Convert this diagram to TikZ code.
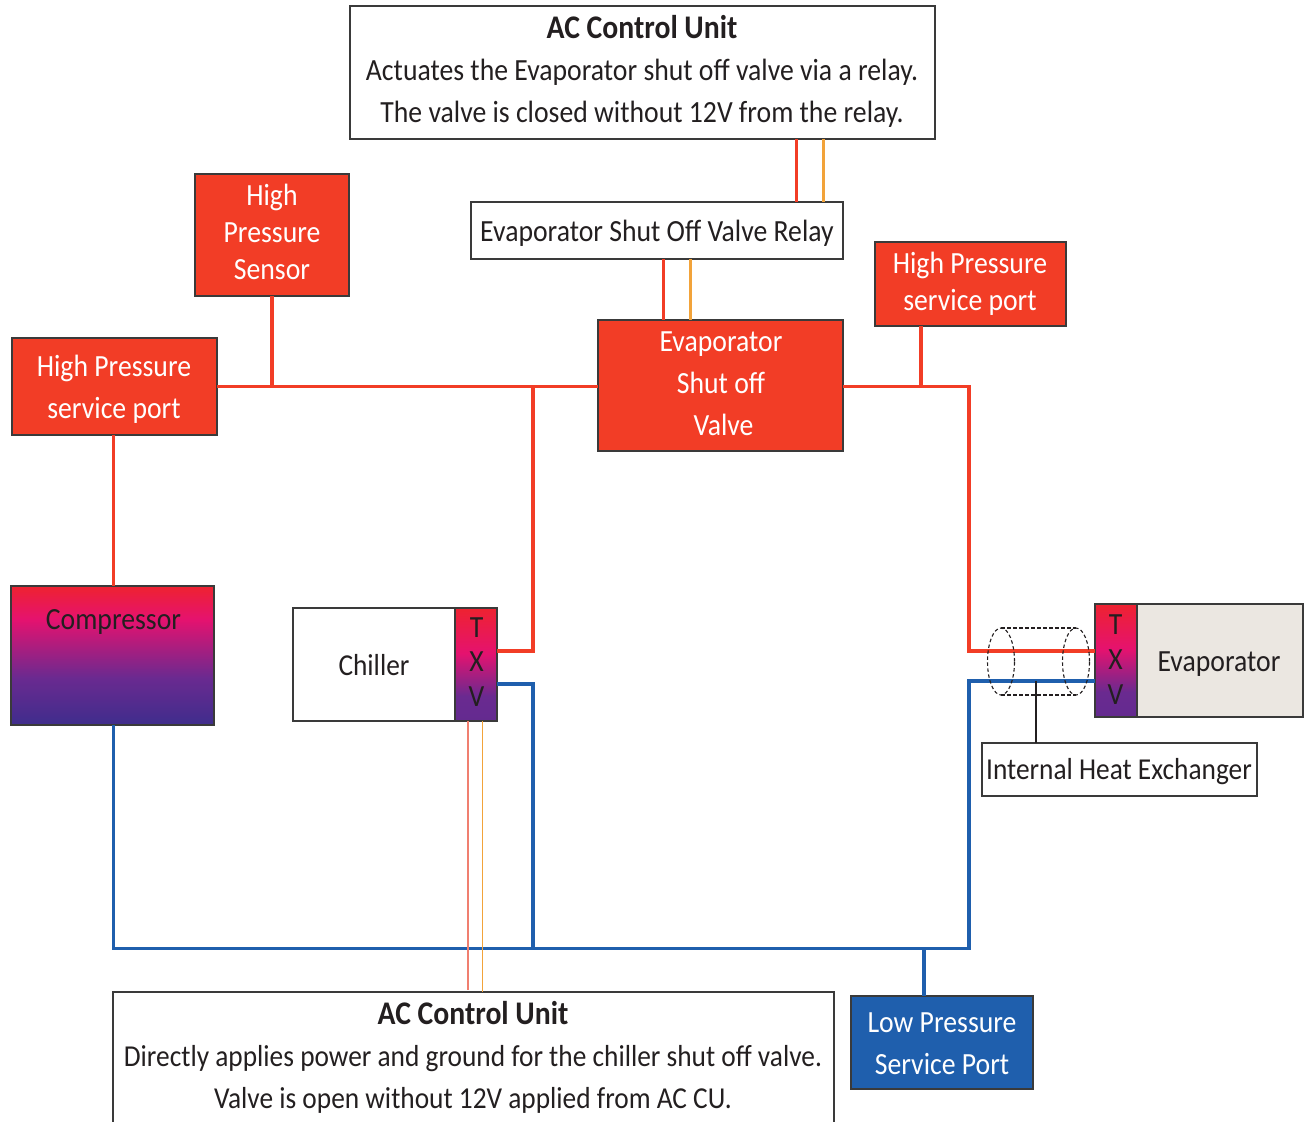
\documentclass[tikz,border=0pt]{standalone}
\usepackage{fontspec}
\setmainfont{Carlito}[FakeStretch=0.9]
\usetikzlibrary{calc}
\definecolor{wred}{HTML}{F23D26}
\definecolor{wblue}{HTML}{1F5FAD}
\definecolor{worange}{HTML}{F2A33A}
\definecolor{wsalmon}{HTML}{F07F70}
\definecolor{edgeg}{HTML}{3A3A3A}
\definecolor{evap}{HTML}{EBE7E1}
\definecolor{inkc}{HTML}{231F20}
\definecolor{rb1}{HTML}{3F2D8C}
\definecolor{rb2}{HTML}{6A2A90}
\definecolor{rb3}{HTML}{E5126F}
\definecolor{rb4}{HTML}{EE2230}
\pgfdeclareverticalshading{refr}{100bp}{
  color(0bp)=(rb1);
  color(25bp)=(rb1);
  color(42bp)=(rb2);
  color(63bp)=(rb3);
  color(75bp)=(rb4);
  color(100bp)=(rb4)}
\pgfdeclareverticalshading{txvshade}{100bp}{
  color(0bp)=(rb2);
  color(25bp)=(rb2!85!rb1);
  color(36bp)=(rb2);
  color(55bp)=(rb3);
  color(75bp)=(rb4);
  color(100bp)=(rb4)}
\newcommand{\headtxt}[1]{{\fontsize{33}{42}\selectfont\bfseries #1}}
\tikzset{
  box/.style={draw=edgeg,line width=1.3pt,inner sep=0pt,outer sep=0pt,anchor=north west},
  redbox/.style={box,fill=wred},
  bluebox/.style={box,fill=wblue},
  gradbox/.style={box,shading=refr,shading angle=0},
  txvbox/.style={box,shading=txvshade,shading angle=0},
  lab/.style={inner sep=0pt,text=inkc,align=center,font=\fontsize{30.8}{42}\selectfont},
  labsm/.style={lab,font=\fontsize{30.4}{42}\selectfont},
  wlab/.style={lab,text=white},
  wlabs/.style={wlab,font=\fontsize{30.8}{37}\selectfont},
  redw/.style={draw=wred,line width=3.2pt},
  bluew/.style={draw=wblue,line width=3.2pt},
  redt/.style={draw=wred,line width=3pt},
  orw/.style={draw=worange,line width=3pt},
  thinred/.style={draw=wsalmon,line width=1.6pt},
  thinor/.style={draw=worange,line width=1.6pt},
  hx/.style={draw=inkc,line width=1.1pt,dash pattern=on 3.5pt off 2.5pt}
}
\begin{document}
\begin{tikzpicture}[x=1pt,y=-1pt]
\useasboundingbox (0,0) rectangle (1307,1122);
\clip (0,0) rectangle (1307,1122);
\coordinate (redbus) at (0,386.5);
\coordinate (bluebus) at (0,948.5);
\coordinate (chillred) at (533,651);
\coordinate (chillblue) at (533,684);
\coordinate (evred) at (969,651);
\coordinate (evblue) at (969,681);
\coordinate (tapA) at (1036,681);
\coordinate (compx) at (113.5,0);

\node[box,minimum width=585pt,minimum height=133pt] (acone) at (350,6) {};
\node[lab] (aconetext) at (642,71) {\headtxt{AC Control Unit}\\Actuates the Evaporator shut off valve via a relay.\\The valve is closed without 12V from the relay.};
\node[box,minimum width=372pt,minimum height=57pt] (relay) at (471,202) {};
\node[lab] (relaytext) at (657,233) {Evaporator Shut Off Valve Relay};
\node[redbox,minimum width=245pt,minimum height=131pt] (valve) at (598,320) {};
\node[wlab] (valvetext) at (721,384) {Evaporator\\Shut off\\\hspace*{5pt}Valve};
\node[redbox,minimum width=154pt,minimum height=122pt] (hps) at (195,174) {};
\node[wlabs] (hpstext) at (272,232) {High\\Pressure\\Sensor};
\node[redbox,minimum width=205pt,minimum height=97pt] (hpl) at (12,338) {};
\node[wlab] (hpltext) at (114,389) {High Pressure\\service port};
\node[redbox,minimum width=191pt,minimum height=84pt] (hpr) at (875,242) {};
\node[wlabs] (hprtext) at (970,284) {High Pressure\\service port};
\node[gradbox,minimum width=203pt,minimum height=139pt] (comp) at (11,586) {};
\node[lab] (complab) at (113.5,622) {Compressor};
\node[box,minimum width=162pt,minimum height=113pt] (chiller) at (293,608) {};
\node[labsm] (chillertext) at (374,665.5) {Chiller};
\node[txvbox,minimum width=42pt,minimum height=113pt] (txvc) at (455,608) {};
\node[lab] (txvct) at (476.5,628) {T};
\node[lab] (txvcx) at (476.5,662) {X};
\node[lab] (txvcv) at (476.5,697) {V};
\node[txvbox,minimum width=42pt,minimum height=113pt] (txve) at (1095,604) {};
\node[lab] (txvet) at (1115.5,625) {T};
\node[lab] (txvex) at (1115.5,660) {X};
\node[lab] (txvev) at (1115.5,695) {V};
\node[box,fill=evap,minimum width=166pt,minimum height=113pt] (evaporator) at (1137,604) {};
\node[lab] (evaptext) at (1219,664) {Evaporator};
\node[box,minimum width=275pt,minimum height=53pt] (ihx) at (982,743) {};
\node[labsm] (ihxtext) at (1119,772) {Internal Heat Exchanger};
\node[box,minimum width=721pt,minimum height=140pt] (actwo) at (113,992) {};
\node[labsm] (actwotext) at (473,1057.5) {\headtxt{AC Control Unit}\\Directly applies power and ground for the chiller shut off valve.\\Valve is open without 12V applied from AC CU.};
\node[bluebox,minimum width=182pt,minimum height=93pt] (lpp) at (851,996) {};
\node[wlab] (lpptext) at (942,1044) {Low Pressure\\Service Port};

\draw[redw] (hpl.east |- redbus) -- (valve.west |- redbus);
\draw[redw] (hps.south) -- (hps.south |- redbus);
\draw[redw] (compx |- hpl.south) -- (compx |- comp.north);
\draw[redw] (chillred |- redbus) -- (chillred) -- (txvc.east |- chillred);
\draw[redw] (valve.east |- redbus) -- (evred |- redbus) -- (evred) -- (txve.west |- evred);
\draw[redw] (921,0 |- hpr.south) -- (921,0 |- redbus);
\draw[bluew] (compx |- comp.south) -- (compx |- bluebus) -- (evblue |- bluebus) -- (evblue) -- (txve.west |- evblue);
\draw[bluew] (txvc.east |- chillblue) -- (chillblue) -- (chillblue |- bluebus);
\draw[bluew] (924,0 |- bluebus) -- (924,0 |- lpp.north);
\draw[redt] (796,0 |- acone.south) -- (796,0 |- relay.north);
\draw[orw] (823,0 |- acone.south) -- (823,0 |- relay.north);
\draw[redt] (663,0 |- relay.south) -- (663,0 |- valve.north);
\draw[orw] (690,0 |- relay.south) -- (690,0 |- valve.north);
\draw[thinred] (468,0 |- txvc.south) -- (468,990);
\draw[thinor] (482.5,0 |- txvc.south) -- (482.5,0 |- actwo.north);
\draw[inkc,line width=2.6pt] (tapA) -- (tapA |- ihx.north);
\coordinate (cylA) at (1001,661.5);
\coordinate (cylB) at (1076,661.5);
\draw[hx] (cylA) ellipse [x radius=13.5pt,y radius=33.5pt];
\draw[hx] (cylB) ellipse [x radius=13.5pt,y radius=33.5pt];
\draw[hx] ($(cylA)+(0,-33.5)$) -- ($(cylB)+(0,-33.5)$);
\draw[hx] ($(cylA)+(0,33.5)$) -- ($(cylB)+(0,33.5)$);
\end{tikzpicture}
\end{document}
